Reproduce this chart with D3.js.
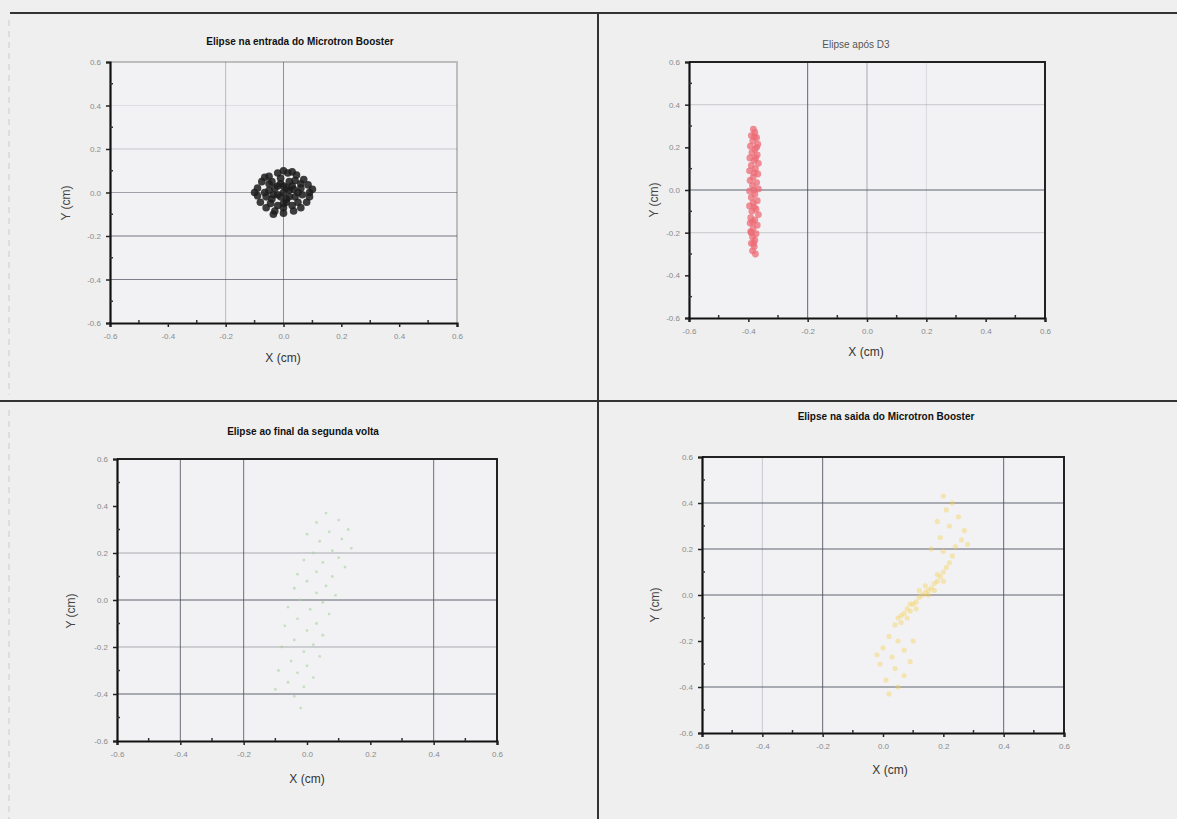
<!DOCTYPE html>
<html>
<head>
<meta charset="utf-8">
<script src="https://cdn.jsdelivr.net/npm/d3@7"></script>
<style>
  body { margin: 0; background: #efefef; }
  svg { display: block; font-family: "Liberation Sans", Arial, sans-serif; }
</style>
</head>
<body>
<div id="chart"></div>
<script>
// tick values shared by every panel (cm)
const tickValues = [-0.6, -0.4, -0.2, 0.0, 0.2, 0.4, 0.6];
const minorValues = [-0.5, -0.3, -0.1, 0.1, 0.3, 0.5];

const titles = [
  'Elipse na entrada do Microtron Booster',
  'Elipse após D3',
  'Elipse ao final da segunda volta',
  'Elipse na saida do Microtron Booster'
];
const xLabel = 'X (cm)';
const yLabel = 'Y (cm)';

// beam points [x, y] (cm)
const entryPoints = [
  [0, 0], [0.02, 0.01], [-0.02, -0.01], [0.01, -0.03], [-0.03, 0.02], [0.03, 0.03],
  [-0.01, 0.04], [0.04, -0.02], [-0.04, -0.03], [0.0, -0.05], [0.05, 0.0], [-0.05, 0.01],
  [0.02, 0.05], [-0.02, -0.06], [0.06, 0.04], [-0.06, -0.02], [0.03, -0.06], [-0.04, 0.05],
  [0.01, 0.02], [-0.01, -0.02], [0.06, 0.02], [0.04, 0.055], [-0.01, 0.065], [-0.05, 0.04],
  [-0.065, 0.0], [-0.045, -0.05], [0.0, -0.07], [0.05, -0.045], [0.065, -0.01],
  [0.02, -0.02], [-0.02, 0.03], [0.035, 0.015], [-0.035, -0.01], [0.0, 0.03], [0.01, -0.045],
  [0.09, 0.0], [0.085, 0.035], [0.07, 0.06], [0.045, 0.08], [0.015, 0.09], [-0.02, 0.09],
  [-0.05, 0.075], [-0.075, 0.05], [-0.09, 0.02], [-0.09, -0.015], [-0.08, -0.045],
  [-0.06, -0.07], [-0.03, -0.085], [0.0, -0.095], [0.035, -0.085], [0.06, -0.07],
  [0.08, -0.045], [0.09, -0.02], [0.1, 0.015], [-0.1, 0.0], [0.0, 0.1], [-0.035, -0.1],
  [0.03, 0.095], [-0.065, 0.07]
];

const afterD3Points = [
  [-0.383, 0.285], [-0.378, 0.27], [-0.39, 0.255], [-0.372, 0.245], [-0.385, 0.23],
  [-0.368, 0.215], [-0.393, 0.205], [-0.378, 0.19], [-0.388, 0.175], [-0.37, 0.165],
  [-0.395, 0.15], [-0.38, 0.14], [-0.366, 0.125], [-0.39, 0.115], [-0.376, 0.1],
  [-0.396, 0.09], [-0.368, 0.075], [-0.384, 0.06], [-0.394, 0.045], [-0.372, 0.035],
  [-0.386, 0.02], [-0.366, 0.005], [-0.396, -0.005], [-0.378, -0.02], [-0.39, -0.035],
  [-0.37, -0.05], [-0.384, -0.06], [-0.396, -0.075], [-0.374, -0.09], [-0.388, -0.1],
  [-0.366, -0.115], [-0.392, -0.13], [-0.378, -0.14], [-0.394, -0.155], [-0.37, -0.165],
  [-0.384, -0.18], [-0.392, -0.195], [-0.374, -0.205], [-0.386, -0.22], [-0.378, -0.235],
  [-0.39, -0.25], [-0.38, -0.265], [-0.386, -0.285], [-0.376, -0.3],
  [-0.38, 0.08], [-0.38, -0.08], [-0.372, 0.2], [-0.39, -0.2], [-0.381, 0.0], [-0.375, 0.15],
  [-0.385, -0.15], [-0.379, 0.25], [-0.382, -0.25]
];

const secondTurnPoints = [
  [0.06, 0.37], [0.1, 0.34], [0.03, 0.33], [0.13, 0.3], [0.07, 0.29], [0.0, 0.28],
  [0.11, 0.26], [0.04, 0.25], [0.14, 0.22], [0.08, 0.21], [0.02, 0.2], [0.1, 0.18],
  [-0.01, 0.17], [0.05, 0.16], [0.12, 0.14], [0.03, 0.12], [-0.03, 0.11], [0.08, 0.1],
  [0.0, 0.08], [0.06, 0.06], [-0.04, 0.05], [0.03, 0.03], [0.09, 0.02], [-0.02, 0.0],
  [0.05, -0.01], [-0.06, -0.03], [0.01, -0.04], [0.07, -0.06], [-0.03, -0.08], [0.03, -0.1],
  [-0.07, -0.11], [0.0, -0.13], [0.05, -0.15], [-0.04, -0.17], [0.02, -0.19], [-0.08, -0.2],
  [-0.01, -0.22], [0.04, -0.24], [-0.05, -0.26], [0.0, -0.28], [-0.09, -0.3], [-0.03, -0.31],
  [0.02, -0.33], [-0.06, -0.35], [-0.01, -0.37], [-0.1, -0.38], [-0.04, -0.41], [-0.02, -0.46]
];

const exitPoints = [
  [0.04, -0.13], [0.05, -0.1], [0.06, -0.12], [0.07, -0.08], [0.08, -0.06], [0.09, -0.07],
  [0.1, -0.04], [0.11, -0.03], [0.12, -0.01], [0.13, 0.0], [0.14, 0.01], [0.15, 0.02],
  [0.16, 0.03], [0.17, 0.05], [0.18, 0.06], [0.19, 0.08], [0.2, 0.1], [0.21, 0.12],
  [0.22, 0.14], [0.06, -0.09], [0.09, -0.04], [0.12, 0.02], [0.15, 0.0], [0.18, 0.09],
  [0.2, 0.06], [0.11, -0.06], [0.14, 0.04], [0.17, 0.02], [0.08, -0.1], [0.23, 0.17],
  [0.02, -0.18], [0.05, -0.2], [0.0, -0.23], [0.07, -0.24], [0.03, -0.27], [0.09, -0.29],
  [-0.01, -0.3], [0.04, -0.32], [0.07, -0.35], [0.01, -0.37], [0.05, -0.4], [0.02, -0.43],
  [-0.02, -0.26], [0.1, -0.2],
  [0.2, 0.19], [0.24, 0.21], [0.26, 0.24], [0.19, 0.25], [0.27, 0.28], [0.22, 0.3],
  [0.18, 0.32], [0.25, 0.34], [0.21, 0.37], [0.23, 0.4], [0.2, 0.43], [0.28, 0.22], [0.16, 0.2]
];

const width = 1177, height = 819;

// panel layout: plot box, label spots, marker style, grid strength for inner ticks
const panels = [
  { points: entryPoints, title: titles[0], box: [110, 62, 457, 323],
    titleX: 300, titleY: 45, bold: true, xLabX: 283, xLabY: 362, yLabX: 70, yLabY: 203,
    color: '#1c1c1c', r: 3.8, opacity: 0.85,
    gridX: [0, 0.35, 0.6, 0, 0], gridY: [0.12, 0.25, 0.5, 0.75, 0.7], frame: 0.25 },
  { points: afterD3Points, title: titles[1], box: [689, 62, 1045, 318],
    titleX: 856, titleY: 48, bold: false, xLabX: 866, xLabY: 356, yLabX: 658, yLabY: 200,
    color: '#ec6b75', r: 3.4, opacity: 0.75,
    gridX: [0, 0.85, 0.45, 0.15, 0], gridY: [0.2, 0, 0.85, 0.2, 0], frame: 1 },
  { points: secondTurnPoints, title: titles[2], box: [117, 459, 497, 741],
    titleX: 303, titleY: 435, bold: true, xLabX: 307, xLabY: 783, yLabX: 75, yLabY: 611,
    color: '#a8d29c', r: 1.4, opacity: 0.6,
    gridX: [0.8, 0.8, 0, 0, 0.8], gridY: [0, 0.45, 0.85, 0.45, 0.85], frame: 1 },
  { points: exitPoints, title: titles[3], box: [702, 457, 1064, 733],
    titleX: 886, titleY: 420, bold: true, xLabX: 890, xLabY: 774, yLabX: 659, yLabY: 605,
    color: '#f6cf4f', r: 2.6, opacity: 0.4,
    gridX: [0.25, 0.85, 0, 0, 0.85], gridY: [0.85, 0.85, 0.85, 0, 0.85], frame: 1 }
];

const svg = d3.select('#chart')
  .append('svg')
  .attr('width', width)
  .attr('height', height)
  .style('background-color', '#efefef');

// outer frame of the 2x2 sheet
svg.append('line').attr('x1', 10).attr('x2', width).attr('y1', 13).attr('y2', 13)
  .attr('stroke', '#333').attr('stroke-width', 2);
svg.append('line').attr('x1', 598).attr('x2', 598).attr('y1', 13).attr('y2', height)
  .attr('stroke', '#333').attr('stroke-width', 2);
svg.append('line').attr('x1', 0).attr('x2', width).attr('y1', 401).attr('y2', 401)
  .attr('stroke', '#333').attr('stroke-width', 2);
svg.append('line').attr('x1', 9).attr('x2', 9).attr('y1', 20).attr('y2', 395)
  .attr('stroke', '#ccc').attr('stroke-dasharray', '6,5');
svg.append('line').attr('x1', 9).attr('x2', 9).attr('y1', 410).attr('y2', height)
  .attr('stroke', '#ccc').attr('stroke-dasharray', '6,5');

const fmt = d => d.toFixed(1);
const innerTicks = tickValues.slice(1, -1);

panels.forEach(p => {
  const [x0, y0, x1, y1] = p.box;
  const x = d3.scaleLinear().domain([-0.6, 0.6]).range([x0, x1]);
  const y = d3.scaleLinear().domain([-0.6, 0.6]).range([y1, y0]);
  const g = svg.append('g');

  g.append('rect')
    .attr('x', x0).attr('y', y0).attr('width', x1 - x0).attr('height', y1 - y0)
    .attr('fill', '#f2f2f4');

  // grid
  g.selectAll('.gx')
    .data(innerTicks)
    .join('line')
    .attr('x1', d => x(d)).attr('x2', d => x(d))
    .attr('y1', y0).attr('y2', y1)
    .attr('stroke', '#4a4f5c')
    .attr('stroke-opacity', (d, i) => p.gridX[i]);
  g.selectAll('.gy')
    .data(innerTicks.slice().reverse())
    .join('line')
    .attr('y1', d => y(d)).attr('y2', d => y(d))
    .attr('x1', x0).attr('x2', x1)
    .attr('stroke', '#4a4f5c')
    .attr('stroke-width', 1.2)
    .attr('stroke-opacity', (d, i) => p.gridY[i]);

  // points
  g.selectAll('circle')
    .data(p.points)
    .join('circle')
    .attr('cx', d => x(d[0]))
    .attr('cy', d => y(d[1]))
    .attr('r', p.r)
    .attr('fill', p.color)
    .attr('fill-opacity', p.opacity);

  // top / right frame
  g.append('path')
    .attr('d', `M${x0},${y0}H${x1}V${y1}`)
    .attr('fill', 'none')
    .attr('stroke', '#222')
    .attr('stroke-opacity', p.frame)
    .attr('stroke-width', 2);

  // axes
  const xAxis = d3.axisBottom(x).tickValues(tickValues).tickFormat(fmt).tickSize(4).tickPadding(6);
  const yAxis = d3.axisLeft(y).tickValues(tickValues).tickFormat(fmt).tickSize(4).tickPadding(5);
  const gx = g.append('g').attr('transform', `translate(0,${y1})`).call(xAxis);
  const gy = g.append('g').attr('transform', `translate(${x0},0)`).call(yAxis);
  [gx, gy].forEach(a => {
    a.select('.domain').attr('stroke', '#111').attr('stroke-width', 2.2);
    a.selectAll('.tick line').attr('stroke', '#222').attr('stroke-width', 1.5);
    a.selectAll('.tick text').attr('fill', '#8a8a8a').style('font-size', '8px');
  });

  // minor ticks
  g.selectAll('.mx')
    .data(minorValues)
    .join('line')
    .attr('x1', d => x(d)).attr('x2', d => x(d))
    .attr('y1', y1).attr('y2', y1 - 3)
    .attr('stroke', '#333').attr('stroke-width', 1.5);
  g.selectAll('.my')
    .data(minorValues)
    .join('line')
    .attr('y1', d => y(d)).attr('y2', d => y(d))
    .attr('x1', x0).attr('x2', x0 + 3)
    .attr('stroke', '#333').attr('stroke-width', 1.5);

  // labels
  g.append('text')
    .attr('x', p.titleX).attr('y', p.titleY)
    .attr('text-anchor', 'middle')
    .style('font-size', '10px')
    .style('font-weight', p.bold ? 'bold' : 'normal')
    .attr('fill', p.bold ? '#111' : '#555')
    .text(p.title);
  g.append('text')
    .attr('x', p.xLabX).attr('y', p.xLabY)
    .attr('text-anchor', 'middle')
    .style('font-size', '12px')
    .attr('fill', '#333')
    .text(xLabel);
  g.append('text')
    .attr('transform', `translate(${p.yLabX},${p.yLabY}) rotate(-90)`)
    .attr('text-anchor', 'middle')
    .style('font-size', '12px')
    .attr('fill', '#444')
    .text(yLabel);
});
</script>
</body>
</html>
